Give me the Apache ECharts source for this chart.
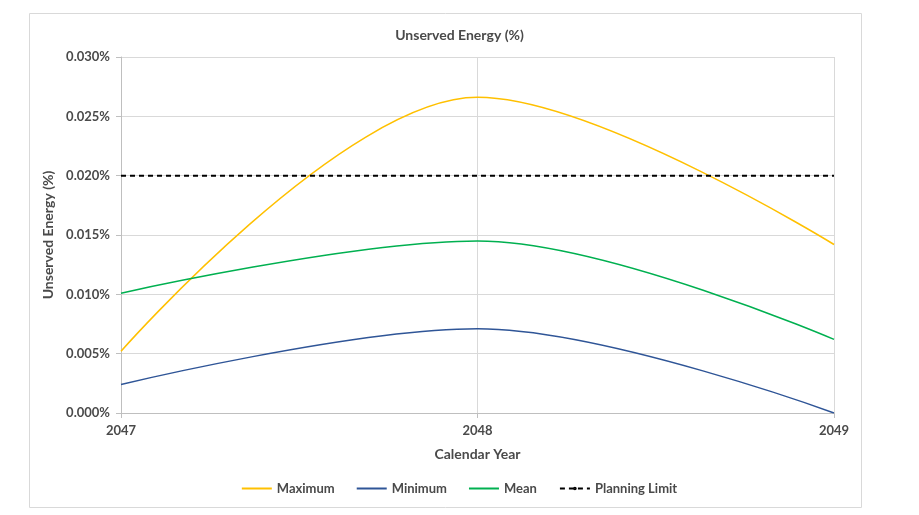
<!DOCTYPE html>
<html><head><meta charset="utf-8">
<script src="https://cdn.jsdelivr.net/npm/echarts@6/dist/echarts.min.js"></script>
<style>html,body{margin:0;padding:0;background:#fff}#c{width:919px;height:515px}</style>
</head><body><div id="c"></div>
<script>
const years = ['2047', '2048', '2049'];
const maximum = [0.0052, 0.0266, 0.0142];
const minimum = [0.0024, 0.0071, 0.0000];
const mean = [0.0101, 0.0145, 0.0062];
const planningLimit = [0.020, 0.020, 0.020];
const yTicks = { min: 0, max: 0.030, interval: 0.005 };

const font = 'Lato, "Open Sans", sans-serif';
const txt = '#4a4a4a';
const chart = echarts.init(document.getElementById('c'));
chart.setOption({
  animation: false,
  textStyle: { fontFamily: font },
  graphic: [{ type: 'rect', shape: { x: 29.5, y: 13.5, width: 832, height: 494 },
    style: { fill: 'none', stroke: '#d9d9d9', lineWidth: 1 } }],
  title: { text: 'Unserved Energy (%)', left: 'center', top: 23,
    textStyle: { fontSize: 14, fontWeight: 'bold', color: txt, fontFamily: font } },
  grid: { left: 121, right: 85, top: 57, bottom: 102 },
  legend: { bottom: 15, left: 'center', itemWidth: 30, itemHeight: 2, itemGap: 22,
    textStyle: { fontSize: 13, color: txt, fontFamily: font, fontWeight: 'bold' },
    data: [
      { name: 'Maximum', icon: 'rect' },
      { name: 'Minimum', icon: 'rect' },
      { name: 'Mean', icon: 'rect' },
      { name: 'Planning Limit' }
    ] },
  xAxis: { type: 'category', data: years, boundaryGap: false,
    name: 'Calendar Year', nameLocation: 'middle', nameGap: 34,
    nameTextStyle: { fontSize: 14, fontWeight: 'bold', color: txt },
    axisLine: { lineStyle: { color: '#bfbfbf' } },
    axisTick: { show: true, length: 5, lineStyle: { color: '#bfbfbf' } },
    axisLabel: { fontSize: 13, color: txt, margin: 11, fontWeight: 'bold' },
    splitLine: { show: true, lineStyle: { color: '#d9d9d9' } } },
  yAxis: { type: 'value', min: yTicks.min, max: yTicks.max, interval: yTicks.interval,
    name: 'Unserved Energy (%)', nameLocation: 'middle', nameGap: 57,
    nameTextStyle: { fontSize: 14, fontWeight: 'bold', color: txt },
    axisLine: { show: true, lineStyle: { color: '#bfbfbf' } },
    axisTick: { show: true, length: 5, lineStyle: { color: '#bfbfbf' } },
    axisLabel: { fontSize: 13, color: txt, margin: 11, fontWeight: 'bold', formatter: v => v.toFixed(3) + '%' },
    splitLine: { lineStyle: { color: '#d9d9d9' } } },
  series: [
    { name: 'Maximum', type: 'line', data: maximum, smooth: 0.35, showSymbol: false,
      lineStyle: { color: '#ffc000', width: 1.5 }, itemStyle: { color: '#ffc000' } },
    { name: 'Minimum', type: 'line', data: minimum, smooth: 0.35, showSymbol: false,
      lineStyle: { color: '#2f5597', width: 1.5 }, itemStyle: { color: '#2f5597' } },
    { name: 'Mean', type: 'line', data: mean, smooth: 0.35, showSymbol: false,
      lineStyle: { color: '#00b050', width: 1.5 }, itemStyle: { color: '#00b050' } },
    { name: 'Planning Limit', type: 'line', data: planningLimit, showSymbol: false,
      lineStyle: { color: '#000', width: 2, type: [5, 4] }, itemStyle: { color: '#000' } }
  ]
});
</script></body></html>
